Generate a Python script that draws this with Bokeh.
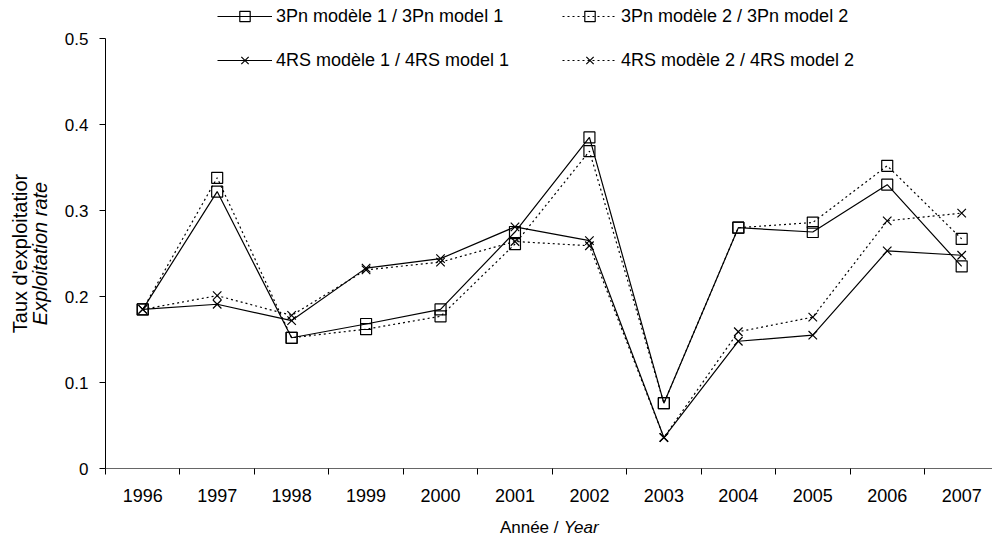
from bokeh.plotting import figure
from bokeh.models import Range1d, FixedTicker, LinearAxis, Legend, LegendItem
from bokeh.embed import file_html
from bokeh.resources import INLINE

# Exploitation rate estimates by year, two stocks x two models
years = ["1996", "1997", "1998", "1999", "2000", "2001",
         "2002", "2003", "2004", "2005", "2006", "2007"]
pn3_model1 = [0.185, 0.322, 0.152, 0.168, 0.185, 0.275, 0.385, 0.076, 0.280, 0.275, 0.330, 0.235]
pn3_model2 = [0.185, 0.338, 0.152, 0.162, 0.177, 0.261, 0.369, 0.076, 0.280, 0.286, 0.352, 0.267]
rs4_model1 = [0.185, 0.191, 0.172, 0.233, 0.244, 0.281, 0.265, 0.036, 0.148, 0.155, 0.253, 0.248]
rs4_model2 = [0.185, 0.201, 0.178, 0.231, 0.240, 0.264, 0.259, 0.036, 0.159, 0.176, 0.288, 0.297]

series_labels = ["3Pn modèle 1 / 3Pn model 1", "3Pn modèle 2 / 3Pn model 2",
                 "4RS modèle 1 / 4RS model 1", "4RS modèle 2 / 4RS model 2"]
y_ticks = [0, 0.1, 0.2, 0.3, 0.4, 0.5]

FONT = "Liberation Sans"
xs = list(range(len(years)))

p = figure(width=992, height=540, output_backend="svg", toolbar_location=None,
           title=None,
           x_range=Range1d(-0.5, 11.414), y_range=Range1d(0, 0.5442),
           min_border_left=105, min_border_right=0, min_border_top=0,
           min_border_bottom=72)
p.outline_line_color = None
p.background_fill_color = "white"
p.border_fill_color = "white"
p.xgrid.visible = False
p.ygrid.visible = False

# x axis: year labels centred on categories, tick marks between them
xa = p.xaxis[0]
xa.ticker = FixedTicker(ticks=xs, minor_ticks=[i - 0.5 for i in xs])
xa.major_label_overrides = {i: y for i, y in enumerate(years)}
xa.major_tick_line_color = None
xa.major_tick_out = 0
xa.major_tick_in = 0
xa.minor_tick_line_color = "black"
xa.minor_tick_out = 6
xa.minor_tick_in = 0
xa.axis_line_color = "#666666"
xa.axis_line_width = 1.2
xa.major_label_standoff = 14
xa.major_label_text_font = FONT
xa.major_label_text_font_size = "18px"
xa.major_label_text_color = "black"


def title_axis(place, pos, text, style, size, standoff, orientation="horizontal"):
    """Bare axis carrying one piece of an axis title as its single tick label."""
    ax = LinearAxis(ticker=FixedTicker(ticks=[pos]),
                    major_label_overrides={pos: text},
                    axis_line_color=None, major_tick_line_color=None,
                    minor_tick_line_color=None, major_tick_out=0, major_tick_in=0,
                    minor_tick_out=0, minor_tick_in=0,
                    major_label_standoff=standoff,
                    major_label_orientation=orientation)
    ax.major_label_text_font = FONT
    ax.major_label_text_font_size = size
    ax.major_label_text_font_style = style
    ax.major_label_text_color = "black"
    p.add_layout(ax, place)
    return ax


# x title: "Année /" upright, "Year" italic, on one line
title_axis("below", 5.191, "Année /", "normal", "17px", 13)
title_axis("below", 5.889, "Year", "italic", "17px", -22)

# y axis ticks
ya = p.yaxis[0]
ya.ticker = FixedTicker(ticks=y_ticks)
ya.bounds = (0, 0.5)
ya.major_label_overrides = {0: "0"}
ya.minor_tick_line_color = None
ya.major_tick_out = 6
ya.major_tick_in = 0
ya.major_label_standoff = 11
ya.major_label_text_font = FONT
ya.major_label_text_font_size = "17px"
ya.major_label_text_color = "black"
ya.axis_line_color = "black"

# y titles, two lines centred on the middle of the 0-0.5 axis
title_axis("left", 0.25, "Exploitation rate", "italic", "20px", 10, "vertical")
title_axis("left", 0.25, "Taux d'exploitatior", "normal", "20px", -5, "vertical")

styles = [
    (pn3_model1, "solid", "square"),
    (pn3_model2, "2 3", "square"),
    (rs4_model1, "solid", "x"),
    (rs4_model2, "2 3", "x"),
]

renderers = []
for vals, dash, marker in styles:
    ln = p.line(xs, vals, line_color="black", line_width=1.2, line_dash=dash)
    size = 11 if marker == "square" else 12
    sc = p.scatter(xs, vals, marker=marker, size=size, line_color="black",
                   fill_color=None, line_width=1.2)
    renderers.append((ln, sc))

# legend: two rows of two entries (location = bottom-left corner, frame px)
legend_spots = [(112, 439), (457, 439), (112, 395), (457, 395)]
for (ln, sc), label, spot in zip(renderers, series_labels, legend_spots):
    leg = Legend(items=[LegendItem(label=label, renderers=[ln, sc])],
                 location=spot, orientation="horizontal", padding=0, margin=0,
                 border_line_color=None, background_fill_alpha=0,
                 glyph_width=55, glyph_height=26, label_height=26,
                 label_standoff=4, label_text_font=FONT,
                 label_text_font_size="18px", label_text_color="black")
    p.add_layout(leg)

open("out.html", "w").write(file_html(p, INLINE))
